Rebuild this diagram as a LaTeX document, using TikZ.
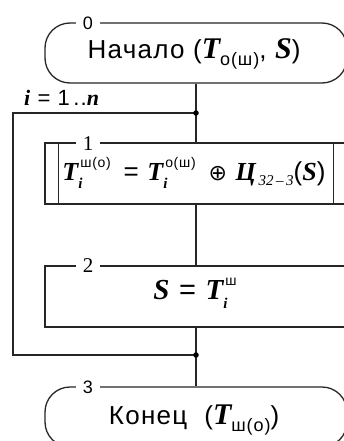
\documentclass[tikz,border=0pt]{standalone}
\usepackage{fontspec}
\setmainfont{Liberation Sans}[LetterSpace=5]
\newfontfamily\mfont{Liberation Serif}
\newfontfamily\symfont{DejaVu Sans}
\newcommand{\bi}[1]{{\mfont\bfseries\itshape #1}}
\newcommand{\fs}[1]{\fontsize{#1}{#1}\selectfont}
\newcommand{\lowr}[2]{\raisebox{-#1}{#2}}
\newcommand{\SubSup}[2]{\rlap{\raisebox{-0.3em}{\fs{15}\bi{#1}}}\kern2pt\raisebox{0.5em}{\fs{14}#2}}
\begin{document}
\begin{tikzpicture}[x=1pt,y=-1pt,
  ln/.style={line width=1.3pt, draw=black!85},
  term/.style={ln, rectangle, rounded corners=25pt, minimum width=302pt, minimum height=60pt, inner sep=0pt},
  proc/.style={ln, rectangle, minimum width=302pt, minimum height=61pt, inner sep=0pt},
  numlab/.style={fill=white, inner xsep=7pt, inner ysep=0pt, font=\fs{18}},
  dot/.style={circle, fill=black, inner sep=0pt, minimum size=5.5pt}]
\useasboundingbox (0,0) rectangle (344,441);
\fill[white] (0,0) rectangle (344,441);
% terminators and boxes
\node[term] (t0) at (196,53) {};
\node[proc] (b1) at (196,173.5) {};
\node[proc] (b2) at (196,296.5) {};
\node[term] (t3) at (196,417) {};
% inner lines of predefined process
\draw[ln] ([xshift=14pt]b1.north west) -- ([xshift=14pt]b1.south west);
\draw[ln] ([xshift=-14pt]b1.north east) -- ([xshift=-14pt]b1.south east);
% texts
\node (tx0) at (194,54) {\fs{26}Начало (\fs{30}\bi{T}\lowr{7pt}{\fs{18}о(ш)}\fs{26}, \fs{30}\bi{S}\fs{26})};
\node (tx1) at (194,173) {\fs{26}\bi{T}\SubSup{i}{ш(о)}\, = \bi{T}\SubSup{i}{о(ш)}\, {\symfont\fs{22}⊕} \bi{Ц}\kern3pt\lowr{5pt}{\fs{15}{\mfont\itshape 32\,–\,3}}(\bi{S})};
\node (tx2) at (195,293) {\fs{29}\bi{S} = \bi{T}\SubSup{i}{ш}};
\node (tx3) at (194,420) {\fs{26}Конец~~(\fs{30}\bi{T}\lowr{7pt}{\fs{18}ш(о)}\fs{26})};
% number labels
\node[numlab] (n0) at (88,23) {0};
\node[numlab, font=\mfont\fs{21}] (n1) at (88,144) {1};
\node[numlab, font=\mfont\fs{21}] (n2) at (88,266) {2};
\node[numlab] (n3) at (88,387) {3};
% loop
\coordinate (j1) at (196,113);
\coordinate (j2) at (196,355);
\coordinate (lt) at (13,113);
\coordinate (lb) at (13,355);
\node[anchor=west, inner sep=0pt] (loop) at (24,98) {\fs{22}\bi{i} = 1\,..\bi{n}};
\draw[ln] (t0.south) -- (j1) -- (b1.north);
\draw[ln] (b1.south) -- (b2.north);
\draw[ln] (b2.south) -- (j2) -- (t3.north);
\draw[ln] (j1) -- (lt) -- (lb) -- (j2);
\node[dot] (d1) at (j1) {};
\node[dot] (d2) at (j2) {};
\end{tikzpicture}
\end{document}
